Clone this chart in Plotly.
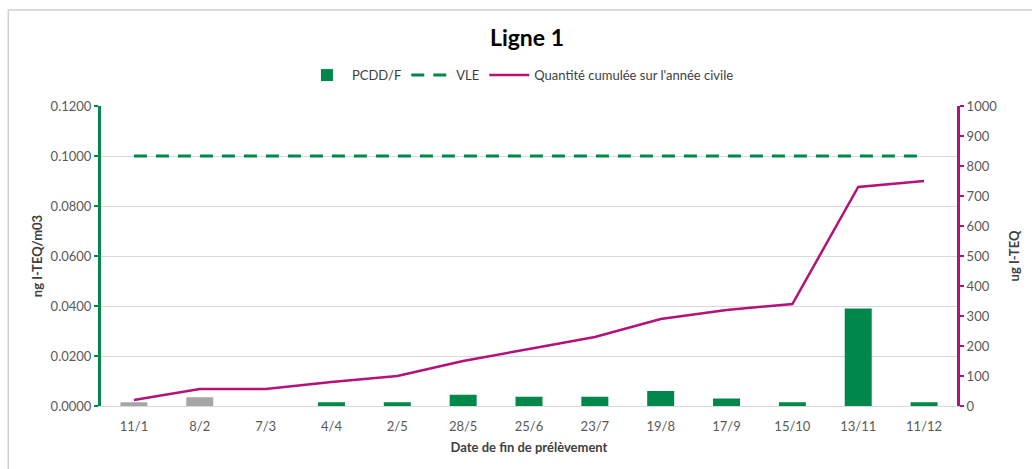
import plotly.graph_objects as go

dates = ["11/1", "8/2", "7/3", "4/4", "2/5", "28/5", "25/6", "23/7", "19/8", "17/9", "15/10", "13/11", "11/12"]
pcdd = [0.0015, 0.0035, 0.0, 0.0015, 0.0015, 0.0045, 0.0037, 0.0037, 0.0060, 0.0030, 0.0015, 0.0390, 0.0015]
grey_points = [True, True] + [False] * 11
vle = [0.1] * 13
cumul = [20, 57, 57, 80, 100, 150, 190, 230, 290, 320, 340, 730, 750]
left_ticks = [0, 0.02, 0.04, 0.06, 0.08, 0.10, 0.12]
right_ticks = list(range(0, 1001, 100))

GREEN = "#00874A"
GREY = "#A6A6A6"
MAG = "#B3127A"
FONT = "Lato"

pcdd_green = [None if g else v for v, g in zip(pcdd, grey_points)]
pcdd_grey = [v if g else None for v, g in zip(pcdd, grey_points)]

fig = go.Figure()
fig.add_trace(go.Bar(x=dates, y=pcdd_green, name="PCDD/F", marker=dict(color=GREEN, line=dict(width=0)),
                     width=0.41))
fig.add_trace(go.Bar(x=dates, y=pcdd_grey, name="PCDD/F", marker=dict(color=GREY, line=dict(width=0)),
                     width=0.41, showlegend=False))
fig.add_trace(go.Scatter(x=dates, y=vle, name="VLE", mode="lines",
                         line=dict(color=GREEN, width=3, dash="13px,9px")))
fig.add_trace(go.Scatter(x=dates, y=cumul, name="Quantité cumulée sur l'année civile", mode="lines",
                         line=dict(color=MAG, width=2.5), yaxis="y2"))

fig.update_layout(
    width=1032, height=469,
    margin=dict(l=101, r=72, t=106, b=63),
    paper_bgcolor="white", plot_bgcolor="white",
    font=dict(family=FONT, size=13, color="#595959"),
    barmode="overlay",
    title=dict(text="<b>Ligne 1</b>", x=(527 - 0) / 1032, xanchor="center", y=1 - 38 / 469, yanchor="middle",
               font=dict(family=FONT, size=23, color="#000000")),
    legend=dict(orientation="h", x=0.49, xanchor="center", y=1.103, yanchor="middle",
                font=dict(family=FONT, size=13, color="#404040"), itemwidth=40, traceorder="normal"),
    showlegend=True,
    xaxis=dict(type="category", range=[-0.5, 12.5], showgrid=False, showline=True, linecolor="#D9D9D9",
               linewidth=1, ticks="outside", ticklen=8, tickcolor="rgba(0,0,0,0)",
               tickfont=dict(size=13, color="#595959"),
               title=dict(text="<b>Date de fin de prélèvement</b>", font=dict(size=13, color="#404040"), standoff=10)),
    yaxis=dict(range=[0, 0.12], tickvals=left_ticks, tickformat=".4f", showgrid=True, gridcolor="#D9D9D9",
               gridwidth=1, showline=True, linecolor=GREEN, linewidth=3, ticks="outside", tickcolor=GREEN,
               ticklen=4, tickwidth=2, zeroline=False, tickfont=dict(size=13, color="#595959"),
               title=dict(text="<b>ng I-TEQ/m03</b>", font=dict(size=13, color="#404040"), standoff=6)),
    yaxis2=dict(range=[0, 1000], tickvals=right_ticks, overlaying="y", side="right", showgrid=False,
                showline=True, linecolor=MAG, linewidth=3, ticks="outside", tickcolor=MAG, ticklen=4,
                tickwidth=2, zeroline=False, tickfont=dict(size=13, color="#595959"),
                title=dict(text="<b>ug I-TEQ</b>", font=dict(size=13, color="#404040"), standoff=14)),
)

fig.add_shape(type="rect", xref="paper", yref="paper",
              x0=(8 - 101) / 859, x1=(1045 - 101) / 859, y0=(406 - 485) / 300, y1=(406 - 10) / 300,
              line=dict(color="#D0D0D0", width=1.5), fillcolor="rgba(0,0,0,0)", layer="below")

fig.write_html("out.html", config={"displayModeBar": False},
               post_script="document.body.style.margin='0';document.body.style.overflow='hidden';")
